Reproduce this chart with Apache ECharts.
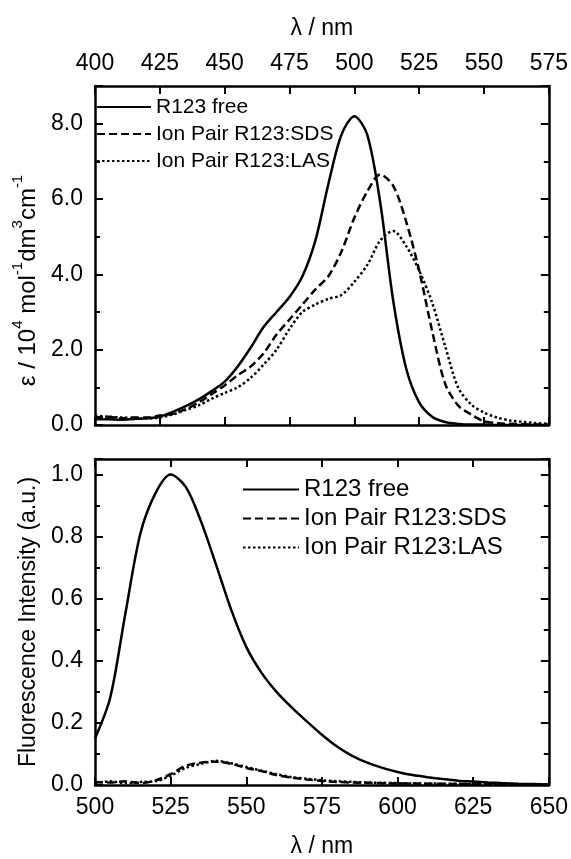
<!DOCTYPE html>
<html>
<head>
<meta charset="utf-8">
<script src="https://cdn.jsdelivr.net/npm/echarts@6/dist/echarts.min.js"></script>
<style>
  html, body { margin: 0; padding: 0; background: #fff; }
  #chart { width: 571px; height: 859px; }
</style>
</head>
<body>
<div id="chart"></div>
<script>
var chart = echarts.init(document.getElementById('chart'));

// absorption panel (top), wavelength in nm
var absWl = [400,405,410,415,420,425,430,435,440,445,450,455,460,465,470,475,480,485,490,495,
             500,505,510,515,520,525,530,535,540,545,550,555,560,565,570,575];
var absFree = [0.15,0.15,0.14,0.16,0.18,0.22,0.35,0.5,0.68,0.9,1.15,1.55,2.05,2.6,3.0,3.4,3.95,4.9,6.4,7.7,
               8.2,7.7,5.9,3.3,1.5,0.6,0.22,0.08,0.03,0.01,0.01,0,0,0,0,0];
var absSds = [0.2,0.22,0.18,0.2,0.2,0.25,0.3,0.42,0.6,0.82,1.05,1.32,1.55,1.9,2.4,2.8,3.2,3.6,3.95,4.6,
              5.5,6.2,6.65,6.35,5.4,4.1,2.5,1.1,0.52,0.28,0.1,0.05,0.03,0.02,0.01,0.01];
var absLas = [0.25,0.22,0.2,0.18,0.17,0.2,0.28,0.4,0.52,0.7,0.85,1.0,1.25,1.6,2.0,2.55,3.0,3.2,3.35,3.45,
              3.8,4.25,4.9,5.15,4.75,4.1,3.25,2.1,1.0,0.55,0.33,0.2,0.12,0.08,0.05,0.03];

// fluorescence panel (bottom)
var flWl = [500,505,510,515,520,525,530,535,540,545,550,555,560,565,570,575,580,585,590,595,
            600,605,610,615,620,625,630,635,640,645,650];
var flFree = [0.15,0.28,0.55,0.81,0.94,1.0,0.96,0.85,0.71,0.565,0.445,0.362,0.3,0.25,0.205,0.162,0.124,0.094,0.072,0.055,
              0.042,0.032,0.025,0.019,0.014,0.011,0.008,0.006,0.004,0.003,0.002];
var flSds = [0.01,0.008,0.012,0.006,0.015,0.035,0.062,0.072,0.075,0.068,0.055,0.045,0.032,0.024,0.018,0.013,0.01,0.008,0.007,0.006,
             0.005,0.005,0.004,0.004,0.003,0.003,0.003,0.002,0.002,0.002,0.002];
var flLas = [0.005,0.012,0.006,0.01,0.012,0.03,0.055,0.068,0.078,0.07,0.058,0.046,0.035,0.025,0.02,0.015,0.012,0.01,0.008,0.007,
             0.006,0.005,0.005,0.004,0.004,0.003,0.003,0.003,0.002,0.002,0.002];

var names = ['R123 free', 'Ion Pair R123:SDS', 'Ion Pair R123:LAS'];
var dashes = ['solid', [8, 4], [2.5, 2.5]];

function pairs(xs, ys) {
    var out = [];
    for (var i = 0; i < xs.length; i++) {
        out.push([xs[i], ys[i]]);
    }
    return out;
}

var font = 'Liberation Sans, Arial, sans-serif';
var lineW = 2.5;

function xAx(grid, pos, min, max, labels, name) {
    return {
        type: 'value', gridIndex: grid, position: pos, min: min, max: max, interval: 25,
        axisLine: { show: true, onZero: false, lineStyle: { color: '#000', width: lineW } },
        axisTick: { show: true, inside: true, length: 8, lineStyle: { color: '#000', width: 2 } },
        axisLabel: { show: labels, fontSize: 23, color: '#000', fontFamily: font, margin: 11 },
        splitLine: { show: false },
        name: name || '', nameLocation: 'middle', nameGap: pos === 'top' ? 46 : 50,
        nameTextStyle: { fontSize: 23, color: '#000', fontFamily: font }
    };
}

function yAx(grid, pos, max, interval, labels, name, style) {
    return {
        type: 'value', gridIndex: grid, position: pos, min: 0, max: max, interval: interval,
        axisLine: { show: true, onZero: false, lineStyle: { color: '#000', width: lineW } },
        axisTick: { show: true, inside: true, length: 8, lineStyle: { color: '#000', width: 2 } },
        minorTick: { show: true, splitNumber: 2, length: 5, lineStyle: { color: '#000', width: 2 } },
        axisLabel: { show: labels, fontSize: 23, color: '#000', fontFamily: font, margin: 12, showMaxLabel: false,
                     formatter: function (v) { return v.toFixed(1); } },
        splitLine: { show: false },
        name: name || '', nameLocation: 'middle', nameGap: 54,
        nameTextStyle: style || { fontSize: 23, color: '#000', fontFamily: font }
    };
}

var epsStyle = {
    fontSize: 24, color: '#000', fontFamily: font, padding: [0, 50, 0, 0],
    rich: {
        t: { fontSize: 24, fontFamily: font, color: '#000', lineHeight: 30, verticalAlign: 'bottom' },
        s: { fontSize: 15, fontFamily: font, color: '#000', lineHeight: 30, verticalAlign: 'top' }
    }
};

var series = [];
var absData = [absFree, absSds, absLas];
var flData = [flFree, flSds, flLas];
for (var k = 0; k < 3; k++) {
    series.push({
        name: names[k], type: 'line', xAxisIndex: 0, yAxisIndex: 0,
        data: pairs(absWl, absData[k]), symbol: 'none', smooth: 0.3,
        lineStyle: { color: '#000', width: lineW, type: dashes[k] }, itemStyle: { color: '#000' }
    });
    series.push({
        name: names[k], type: 'line', xAxisIndex: 2, yAxisIndex: 2,
        data: pairs(flWl, flData[k]), symbol: 'none', smooth: 0.3,
        lineStyle: { color: '#000', width: lineW, type: dashes[k] }, itemStyle: { color: '#000' }
    });
}

var option = {
    backgroundColor: '#fff',
    animation: false,
    grid: [
        { left: 95, top: 86, width: 455, height: 339 },
        { left: 95, top: 459, width: 455, height: 342 }
    ],
    legend: [
        { data: names, orient: 'vertical', left: 96, top: 96, padding: 0, itemWidth: 54, itemHeight: 14, itemGap: 5,
          selectedMode: false, itemStyle: { color: 'transparent', borderWidth: 0 },
          textStyle: { fontSize: 21, color: '#000', fontFamily: font, lineHeight: 22 } },
        { data: names, orient: 'vertical', left: 242, top: 477, padding: 0, itemWidth: 56, itemHeight: 14, itemGap: 4,
          selectedMode: false, itemStyle: { color: 'transparent', borderWidth: 0 },
          textStyle: { fontSize: 24, color: '#000', fontFamily: font, lineHeight: 25 } }
    ],
    xAxis: [
        xAx(0, 'top', 400, 575, true, 'λ / nm'),
        xAx(0, 'bottom', 400, 575, false),
        xAx(1, 'bottom', 500, 650, true, 'λ / nm'),
        xAx(1, 'top', 500, 650, false)
    ],
    yAxis: [
        yAx(0, 'left', 9, 2, true, '{t|ε / 10}{s|4}{t| mol}{s|-1}{t|dm}{s|3}{t|cm}{s|-1}', epsStyle),
        yAx(0, 'right', 9, 2, false),
        yAx(1, 'left', 1.05, 0.2, true, 'Fluorescence Intensity (a.u.)'),
        yAx(1, 'right', 1.05, 0.2, false)
    ],
    series: series
};
chart.setOption(option);
</script>
</body>
</html>
